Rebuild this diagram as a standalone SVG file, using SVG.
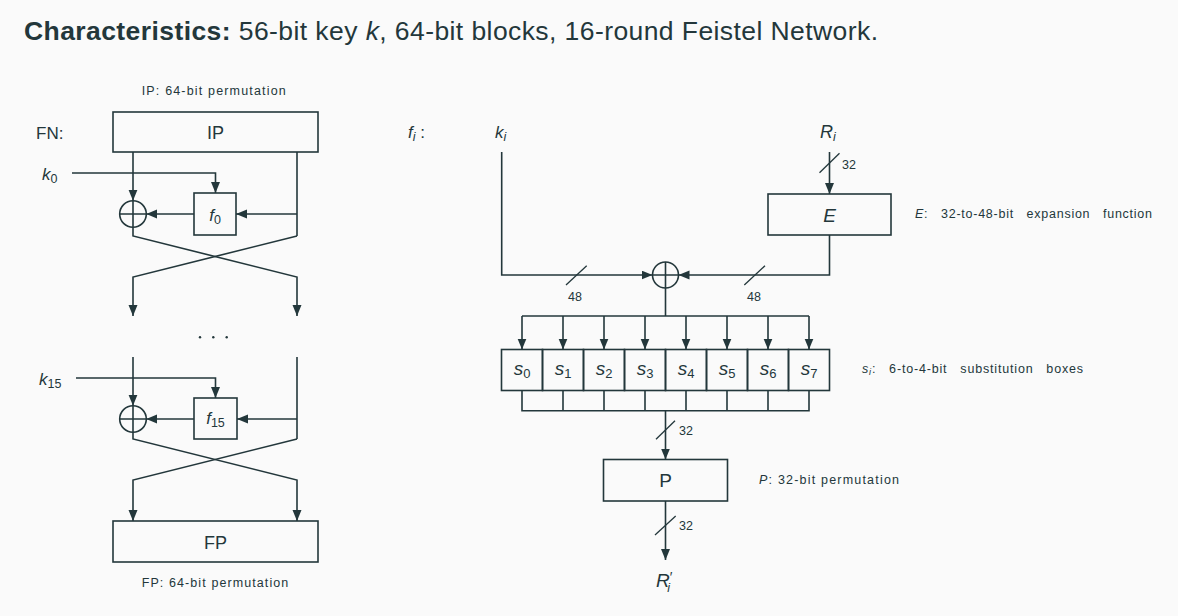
<svg xmlns="http://www.w3.org/2000/svg" width="1178" height="616" viewBox="0 0 1178 616">
<style>
text{font-family:"Liberation Sans","DejaVu Sans",sans-serif;fill:#23373b}
.box{fill:none;stroke:#23373b;stroke-width:1.6}
.ln{fill:none;stroke:#23373b;stroke-width:1.6}
.arr{marker-end:url(#ah)}
.sl{stroke:#23373b;stroke-width:1.3}
.it{font-style:italic}
.big{font-size:18px}
.sm{font-size:12.5px}
.pre{white-space:pre}
</style>
<defs>
<marker id="ah" markerWidth="12" markerHeight="10" refX="11" refY="4.5" orient="auto" markerUnits="userSpaceOnUse"><path d="M0,0 L11,4.5 L0,9 Z" fill="#23373b"/></marker>
</defs>
<rect width="1178" height="616" fill="#fafafa"/>
<text x="24" y="40" font-size="26.5" textLength="854" lengthAdjust="spacing"><tspan font-weight="bold">Characteristics:</tspan> 56-bit key <tspan class="it">k</tspan>, 64-bit blocks, 16-round Feistel Network.</text>

<g id="labels-left">
<text x="141.7" y="95" class="sm" textLength="144" lengthAdjust="spacing">IP: 64-bit permutation</text>
<text x="36" y="138.5" font-size="17">FN:</text>
<text x="42" y="180" font-size="17"><tspan class="it">k</tspan><tspan font-size="12.5" dy="3">0</tspan></text>
<text x="39" y="385" font-size="17"><tspan class="it">k</tspan><tspan font-size="12.5" dy="3">15</tspan></text>
<text x="141.7" y="586.7" class="sm" textLength="146.6" lengthAdjust="spacing">FP: 64-bit permutation</text>
<circle cx="200" cy="337.3" r="1.2" fill="#23373b"/>
<circle cx="213.3" cy="337.3" r="1.2" fill="#23373b"/>
<circle cx="226.7" cy="337.3" r="1.2" fill="#23373b"/>
</g>

<g id="IP"><rect class="box" x="113" y="112" width="205" height="40"/><text x="215.5" y="138.5" class="big" text-anchor="middle">IP</text></g>
<g id="f0"><rect class="box" x="194" y="193" width="42" height="42"/><text x="215" y="221" font-size="17" text-anchor="middle"><tspan class="it">f</tspan><tspan font-size="12.5" dy="3">0</tspan></text></g>
<g id="xor0"><circle class="ln" cx="133" cy="214" r="13.3"/><path class="ln" d="M133,200.7V227.3M119.7,214H146.3"/></g>
<g id="f15"><rect class="box" x="194" y="398" width="43" height="41"/><text x="215.5" y="424" font-size="17" text-anchor="middle"><tspan class="it">f</tspan><tspan font-size="12.5" dy="3">15</tspan></text></g>
<g id="xor15"><circle class="ln" cx="133" cy="419" r="13.3"/><path class="ln" d="M133,405.7V432.3M119.7,419H146.3"/></g>
<g id="FP"><rect class="box" x="113" y="521" width="205" height="41"/><text x="215.5" y="549" class="big" text-anchor="middle">FP</text></g>

<g id="labels-right">
<text x="408" y="138" font-size="17"><tspan class="it">f</tspan><tspan class="it" font-size="12.5" dy="3">i</tspan><tspan dy="-3"> :</tspan></text>
<text x="495" y="138" font-size="17"><tspan class="it">k</tspan><tspan class="it" font-size="12.5" dy="3">i</tspan></text>
<text x="820" y="138" font-size="18"><tspan class="it">R</tspan><tspan class="it" font-size="12.5" dy="3">i</tspan></text>
<text x="842" y="169.3" class="sm">32</text>
<text x="568" y="301" class="sm">48</text>
<text x="747" y="301" class="sm">48</text>
<text x="679" y="435" class="sm">32</text>
<text x="679" y="530" class="sm">32</text>
<text x="656" y="587" font-size="19"><tspan class="it">R</tspan><tspan font-size="14" dy="-5">′</tspan><tspan class="it" font-size="12.5" dx="-5" dy="10">i</tspan></text>
<text x="915" y="218.3" class="sm pre" textLength="237" lengthAdjust="spacing"><tspan class="it">E</tspan>:   32-to-48-bit   expansion   function</text>
<text x="862" y="373.3" class="sm pre" textLength="221" lengthAdjust="spacing"><tspan class="it">s</tspan><tspan class="it" font-size="9" dy="2">i</tspan><tspan dy="-2">:   6-to-4-bit   substitution   boxes</tspan></text>
<text x="759" y="484" class="sm" textLength="140" lengthAdjust="spacing"><tspan class="it">P</tspan>: 32-bit permutation</text>
</g>

<g id="E"><rect class="box" x="768" y="194" width="123" height="41"/><text x="829.5" y="221.5" font-size="19" class="it" text-anchor="middle">E</text></g>
<g id="xor"><circle class="ln" cx="665.5" cy="275" r="13"/><path class="ln" d="M665.5,262V288M652.5,275H678.5"/></g>
<g id="sboxes">
<g id="S0"><rect class="box" x="501.5" y="349.5" width="41" height="41"/><text x="522" y="375" font-size="19" text-anchor="middle"><tspan class="it">s</tspan><tspan font-size="13" dy="3">0</tspan></text></g>
<g id="S1"><rect class="box" x="542.5" y="349.5" width="41" height="41"/><text x="563" y="375" font-size="19" text-anchor="middle"><tspan class="it">s</tspan><tspan font-size="13" dy="3">1</tspan></text></g>
<g id="S2"><rect class="box" x="583.5" y="349.5" width="41" height="41"/><text x="604" y="375" font-size="19" text-anchor="middle"><tspan class="it">s</tspan><tspan font-size="13" dy="3">2</tspan></text></g>
<g id="S3"><rect class="box" x="624.5" y="349.5" width="41" height="41"/><text x="645" y="375" font-size="19" text-anchor="middle"><tspan class="it">s</tspan><tspan font-size="13" dy="3">3</tspan></text></g>
<g id="S4"><rect class="box" x="665.5" y="349.5" width="41" height="41"/><text x="686" y="375" font-size="19" text-anchor="middle"><tspan class="it">s</tspan><tspan font-size="13" dy="3">4</tspan></text></g>
<g id="S5"><rect class="box" x="706.5" y="349.5" width="41" height="41"/><text x="727" y="375" font-size="19" text-anchor="middle"><tspan class="it">s</tspan><tspan font-size="13" dy="3">5</tspan></text></g>
<g id="S6"><rect class="box" x="747.5" y="349.5" width="41" height="41"/><text x="768" y="375" font-size="19" text-anchor="middle"><tspan class="it">s</tspan><tspan font-size="13" dy="3">6</tspan></text></g>
<g id="S7"><rect class="box" x="788.5" y="349.5" width="41" height="41"/><text x="809" y="375" font-size="19" text-anchor="middle"><tspan class="it">s</tspan><tspan font-size="13" dy="3">7</tspan></text></g>
</g>
<g id="P"><rect class="box" x="603.5" y="459.5" width="124" height="41.5"/><text x="665.5" y="487" font-size="19" text-anchor="middle">P</text></g>

<g id="connectors">
<path class="ln arr" d="M133,152V200.7"/>
<path class="ln arr" d="M72,173H215.5V193"/>
<path class="ln arr" d="M297,214H236"/>
<path class="ln arr" d="M194,214H146.3"/>
<path class="ln" d="M297,152V236"/>
<path class="ln arr" d="M133,227.3V236L297,277V316"/>
<path class="ln arr" d="M297,236L133,277V316"/>
<path class="ln arr" d="M133,357V405.7"/>
<path class="ln arr" d="M76,378H215.5V398"/>
<path class="ln arr" d="M297,419H237"/>
<path class="ln arr" d="M194,419H146.3"/>
<path class="ln" d="M297,357V439"/>
<path class="ln arr" d="M133,432.3V439L297,480V521"/>
<path class="ln arr" d="M297,439L133,480V521"/>
<path class="ln arr" d="M501.7,152V275H652.5"/>
<path class="ln arr" d="M829.5,152V194"/>
<path class="ln arr" d="M829.5,235V275H678.5"/>
<path class="sl" d="M819.5,172.7L839.5,153.3"/>
<path class="sl" d="M566,285L586.7,265.7"/>
<path class="sl" d="M744.3,285L765,265.7"/>
<path class="ln" d="M665.5,288V316" stroke-width="2.4"/>
<path class="ln" d="M522,316H809"/>
<path class="ln arr" d="M522,316V349.5"/>
<path class="ln arr" d="M563,316V349.5"/>
<path class="ln arr" d="M604,316V349.5"/>
<path class="ln arr" d="M645,316V349.5"/>
<path class="ln arr" d="M686,316V349.5"/>
<path class="ln arr" d="M727,316V349.5"/>
<path class="ln arr" d="M768,316V349.5"/>
<path class="ln arr" d="M809,316V349.5"/>
<path class="ln" d="M522,390.5V410.7H809V390.5M563,390.5V410.7M604,390.5V410.7M645,390.5V410.7M686,390.5V410.7M727,390.5V410.7M768,390.5V410.7"/>
<path class="ln arr" d="M665.5,410.7V459.5" stroke-width="2.2"/>
<path class="sl" d="M656,439.3L675,420.7"/>
<path class="ln arr" d="M665.5,501V560"/>
<path class="sl" d="M655,535L675.7,516"/>
</g>
</svg>
